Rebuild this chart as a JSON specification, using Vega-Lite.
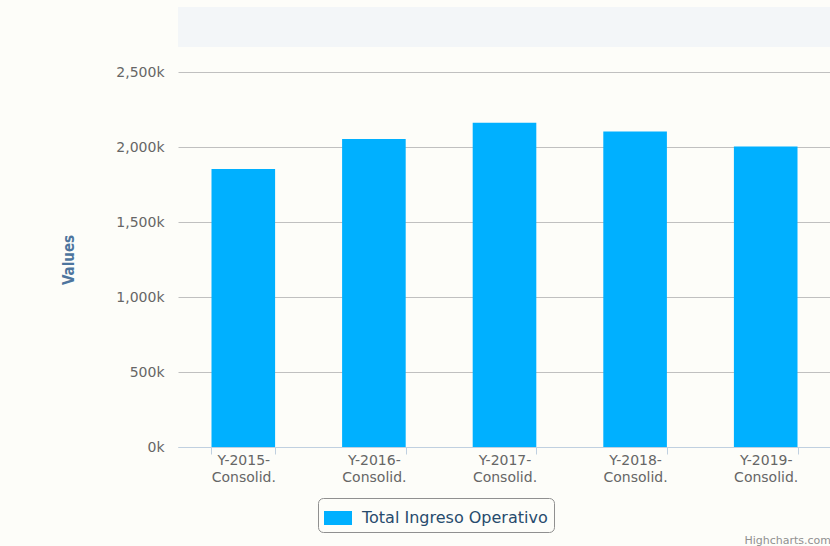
{
  "$schema": "https://vega.github.io/schema/vega-lite/v6.json",
  "background": "#fdfdf9",
  "padding": {"left": 61, "top": 7, "right": 0, "bottom": 0},
  "autosize": {"type": "pad"},
  "spacing": 18,
  "title": {"text": "Highcharts.com", "orient": "bottom", "anchor": "end", "fontSize": 11, "fontWeight": "normal", "color": "#909090", "font": "DejaVu Sans", "offset": 2, "frame": "bounds"},
  "vconcat": [
    {
      "width": 653,
      "height": 40,
      "view": {"fill": "#f3f6f8", "stroke": null},
      "data": {"values": [{"k": 1}]},
      "mark": {"type": "point", "opacity": 0},
      "encoding": {}
    },
    {
      "width": 653,
      "height": 375,
      "view": {"stroke": null},
      "data": {"values": [
        {"category": "Y-2015-Consolid.", "value": 1853000, "series": "Total Ingreso Operativo"},
        {"category": "Y-2016-Consolid.", "value": 2053000, "series": "Total Ingreso Operativo"},
        {"category": "Y-2017-Consolid.", "value": 2162000, "series": "Total Ingreso Operativo"},
        {"category": "Y-2018-Consolid.", "value": 2104000, "series": "Total Ingreso Operativo"},
        {"category": "Y-2019-Consolid.", "value": 2003000, "series": "Total Ingreso Operativo"}
      ]},
      "mark": {"type": "bar"},
      "encoding": {
        "x": {
          "field": "category", "type": "nominal", "sort": null,
          "scale": {"paddingInner": 0.513, "paddingOuter": 0.2565},
          "axis": {
            "title": null, "labelAngle": 0,
            "labelExpr": "[slice(datum.label, 0, 7), slice(datum.label, 7)]",
            "labelFont": "DejaVu Sans", "labelFontSize": 14, "labelColor": "#666666",
            "labelLineHeight": 17, "labelPadding": -1, "labelBaseline": "top",
            "domainColor": "#c0d0e0", "tickColor": "#c0d0e0", "tickSize": 7, "tickBand": "extent"
          }
        },
        "y": {
          "field": "value", "type": "quantitative",
          "scale": {"domain": [0, 2500000]},
          "axis": {
            "title": "Values", "titleColor": "#4d759e", "titleFont": "DejaVu Sans Condensed", "titleFontSize": 15, "titleFontWeight": "bold", "titlePadding": 39,
            "values": [0, 500000, 1000000, 1500000, 2000000, 2500000],
            "labelExpr": "format(datum.value / 1000, ',') + 'k'",
            "labelFont": "DejaVu Sans", "labelFontSize": 14, "labelColor": "#666666", "labelPadding": 14,
            "ticks": false, "domain": false, "grid": true, "gridColor": "#c0c0c0"
          }
        },
        "color": {
          "field": "series", "type": "nominal",
          "scale": {"range": ["#00b0ff"]},
          "legend": {
            "title": null, "orient": "none", "legendX": 140, "legendY": 491, "direction": "horizontal",
            "strokeColor": "#909090", "cornerRadius": 5, "padding": 6,
            "symbolType": "M-1,-0.5H1V0.5H-1Z", "symbolSize": 784, "symbolStrokeWidth": 0, "symbolOpacity": 1,
            "labelFont": "DejaVu Sans", "labelFontSize": 16, "labelColor": "#274b6d", "labelLimit": 400, "labelOffset": 10
          }
        }
      }
    }
  ]
}
